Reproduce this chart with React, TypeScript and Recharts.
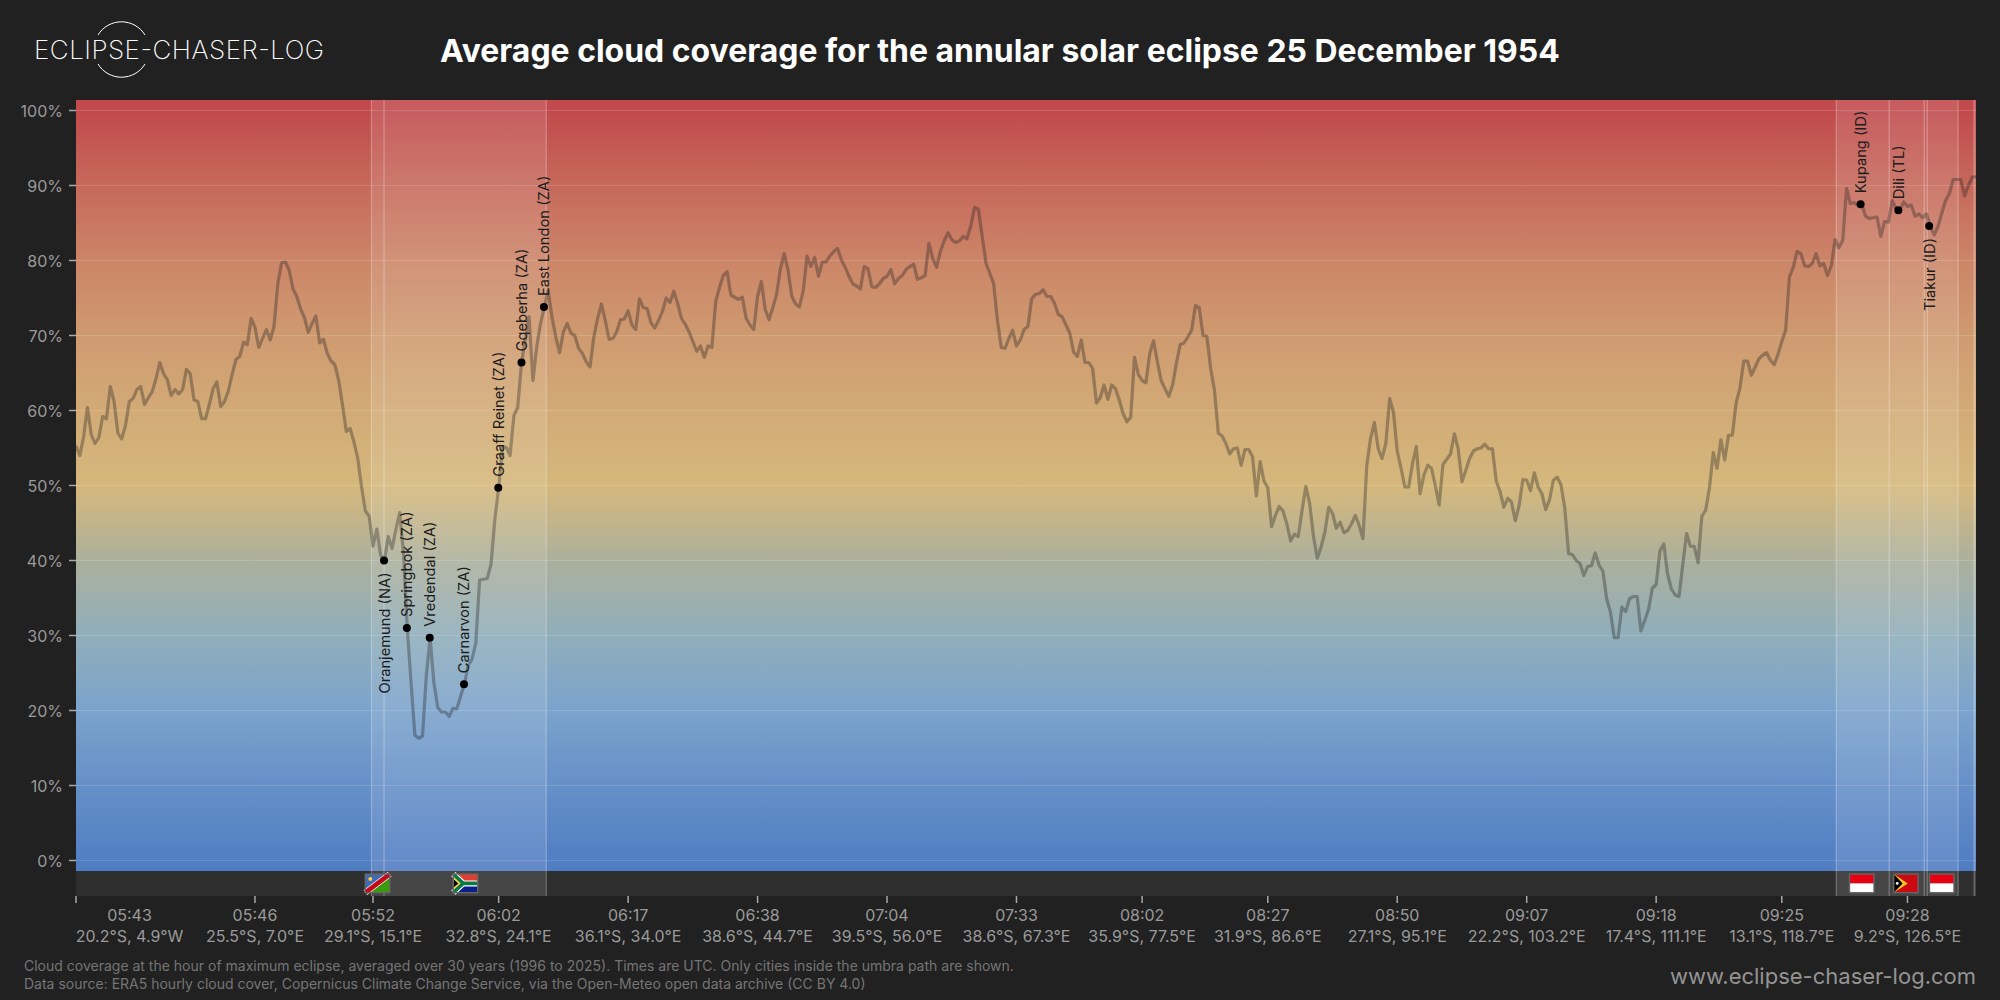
import {
  CartesianGrid,
  ComposedChart,
  Line,
  ReferenceArea,
  ReferenceDot,
  ReferenceLine,
  XAxis,
  YAxis,
} from "recharts";

// cloud cover (%) per sample along the centre line
const cloudAtlantic = [
  55.3, 54.0, 56.5, 60.4, 56.8, 55.6, 56.4, 59.2, 58.9, 63.2,
  61.2, 57.0, 56.2, 58.0, 61.2, 61.6, 62.8, 63.2, 60.8, 61.7,
  62.5, 64.2, 66.4, 64.9, 64.1, 62.0, 62.8, 62.2, 62.8, 65.5,
  64.9, 61.4, 61.2, 58.9, 58.9, 60.8, 62.9, 63.8, 60.5, 61.2,
  62.6, 64.8, 66.8, 67.2, 69.1, 68.8, 72.3, 71.1, 68.4, 69.6,
  70.8, 69.4, 71.2, 76.9, 79.7, 79.8, 78.7, 76.2, 75.2, 73.5,
  72.4, 70.4, 71.6, 72.6, 69.0, 69.5, 67.6, 66.6, 66.1, 64.0,
  60.7, 57.2, 57.6, 55.8, 53.6, 49.8, 46.6, 45.9,
];
const cloudAfrica = [
  41.9, 44.2, 40.7, 40.0, 43.2, 41.6, 44.1, 46.4, 41.0, 31.0,
  23.7, 16.7, 16.3, 16.6, 24.6, 29.7, 23.7, 20.4, 19.8, 19.8,
  19.2, 20.3, 20.2, 21.9, 23.5, 26.0, 26.8, 29.0, 37.4, 37.5,
  37.6, 39.5, 45.5, 49.7, 55.1, 55.1, 54.0, 59.3, 60.4, 66.3,
];
const cloudSouthIndian = [
  69.4, 72.5, 64.0, 68.5, 71.6, 73.8, 76.0, 72.5, 69.8, 67.7,
  70.5, 71.6, 70.3, 70.0, 68.3, 67.6, 66.5, 65.8, 69.8, 72.3,
  74.2, 72.0, 69.5, 69.6, 70.5, 72.1, 72.2, 73.3, 71.4, 70.8,
  74.9, 73.7, 73.6, 71.7, 71.0, 72.0, 73.2, 75.0, 74.4, 75.9,
  74.3, 72.3, 71.5, 70.5, 69.2, 67.9, 68.6, 67.1, 68.6, 68.4,
  74.5, 76.4, 78.0, 78.5, 75.4, 75.1, 74.8, 75.1, 72.3, 71.4,
  70.8, 75.2, 77.2, 73.5, 72.1, 73.7, 75.5, 78.9, 80.9, 78.7,
  75.2, 74.2, 73.8, 76.0, 80.6, 79.2, 80.4, 77.9, 79.8, 79.8,
  80.6, 81.2, 81.6, 80.1, 79.1, 77.9, 76.9, 76.6, 76.2, 79.2,
  78.9, 76.5, 76.4, 76.9, 77.6, 77.9, 78.8, 76.9, 77.6, 78.0,
  78.8, 79.2, 79.5, 77.5, 77.7, 78.0, 82.3, 80.3, 79.1, 81.2,
  82.6, 83.7, 82.8, 82.4, 82.6, 83.2, 82.9, 84.6, 87.1, 86.8,
  83.2, 79.6, 78.3, 76.9, 72.0,
];
const cloudMidIndian = [
  68.4, 68.3, 69.6, 70.7, 68.6, 69.4, 70.8, 71.2, 74.9, 75.5,
  75.6, 76.1, 75.2, 75.2, 74.3, 72.8, 72.5, 71.4, 70.3, 67.8,
  67.2, 69.4, 66.4, 66.4, 65.6, 61.0, 61.7, 63.4, 61.5, 63.4,
  62.9, 61.4, 59.6, 58.5, 59.1, 67.1, 64.8, 64.0, 63.7, 67.6,
  69.3, 66.5, 64.0, 62.9, 61.9, 63.4, 66.3, 68.8, 69.0, 69.8,
  70.7, 74.0, 73.7, 70.0, 69.9, 65.6, 62.7, 57.0, 56.6, 55.6,
  54.2, 54.9, 55.0, 52.7, 54.8, 54.8, 53.8, 48.6, 53.2, 50.6,
  49.7, 44.5, 46.0, 47.2, 46.6, 44.9, 42.6, 43.5, 43.2, 46.7,
  49.9, 47.6, 43.2, 40.3, 41.8, 43.8, 47.1, 46.3, 44.3, 45.1,
  43.7, 44.0, 44.9, 46.0, 44.7, 42.9, 52.7, 56.3, 58.4, 54.9,
  53.6, 55.6, 61.6, 59.8, 54.6, 52.3, 49.8, 49.8, 52.9, 55.2,
  48.9, 51.4, 52.7, 52.3, 50.0, 47.4, 52.8, 53.5, 54.2, 56.9,
  54.9, 50.5, 52.0, 53.6, 54.6, 54.9, 55.0,
];
const cloudTimorSea = [
  55.5, 54.9, 54.9, 50.6, 49.2, 47.1, 48.3, 47.8, 45.3, 47.3,
  50.8, 50.7, 49.3, 51.7, 49.8, 48.9, 46.8, 48.1, 50.7, 51.1,
  50.1, 47.0, 40.9, 40.8, 40.0, 39.6, 38.0, 39.2, 39.3, 41.0,
  39.4, 38.6, 34.9, 33.1, 29.7, 29.7, 33.8, 33.2, 34.9, 35.2,
  35.2, 30.6, 32.0, 33.5, 36.3, 36.8, 41.3, 42.2, 38.2, 36.2,
  35.4, 35.2, 39.5, 43.6, 41.9, 41.9, 39.7, 45.9, 46.7, 49.7,
  54.4, 52.3, 56.1, 53.4, 56.7, 56.7, 61.0, 63.0, 66.6, 66.6,
  64.7, 65.8, 66.9, 67.4, 67.7, 66.7, 66.1, 67.5, 69.2, 70.7,
  77.8, 79.1, 81.2, 80.9, 79.3, 79.2, 79.6, 80.9, 79.3, 79.6,
  78.0, 79.3, 82.8, 81.7, 82.7, 89.6, 87.6, 87.7, 87.4, 87.5,
  85.9, 85.6, 85.7, 85.8, 83.2, 85.2, 85.1, 88.0, 86.9, 86.7,
  87.8, 87.2, 87.4, 85.9, 86.2, 85.7, 86.2, 84.6, 83.4, 84.5,
  86.3, 88.0, 88.9, 90.8, 90.8, 90.8, 88.6, 90.0, 91.1, 91.2,
];
const cloudCover = [
  ...cloudAtlantic,
  ...cloudAfrica,
  ...cloudSouthIndian,
  ...cloudMidIndian,
  ...cloudTimorSea,
];

const tickSamples = [0, 47, 78, 111, 145, 179, 213, 247, 280, 313, 347, 381, 415, 448, 481];
const tickTimes = [
  "05:43", "05:46", "05:52", "06:02", "06:17", "06:38", "07:04", "07:33",
  "08:02", "08:27", "08:50", "09:07", "09:18", "09:25", "09:28",
];
const tickCoords = [
  "20.2°S, 4.9°W", "25.5°S, 7.0°E", "29.1°S, 15.1°E", "32.8°S, 24.1°E", "36.1°S, 34.0°E",
  "38.6°S, 44.7°E", "39.5°S, 56.0°E", "38.6°S, 67.3°E", "35.9°S, 77.5°E", "31.9°S, 86.6°E",
  "27.1°S, 95.1°E", "22.2°S, 103.2°E", "17.4°S, 111.1°E", "13.1°S, 118.7°E", "9.2°S, 126.5°E",
];
const yTicks = [0, 10, 20, 30, 40, 50, 60, 70, 80, 90, 100];

const cityNames = [
  "Oranjemund (NA)", "Springbok (ZA)", "Vredendal (ZA)", "Carnarvon (ZA)", "Graaff Reinet (ZA)",
  "Gqeberha (ZA)", "East London (ZA)", "Kupang (ID)", "Dili (TL)", "Tiakur (ID)",
];
const citySamples = [80.9, 86.9, 92.9, 101.9, 110.9, 117, 122.9, 468.7, 478.6, 486.7];
const cityValues = [40, 31, 29.7, 23.5, 49.7, 66.4, 73.8, 87.5, 86.7, 84.6];
const cityBelow = [true, false, false, false, false, false, false, false, false, true];

// land stretches crossed by the umbra
const landSpans = [
  [77.6, 123.5],
  [462.3, 494.3],
  [498.5, 499],
];
const borderSamples = [77.6, 80.9, 123.5, 462.3, 476.2, 485.4, 486.2, 494.3, 498.5];

const flagCodes = ["NA", "ZA", "ID", "TL", "ID"];
const flagSamples = [79.2, 102.3, 469, 480.6, 490];

const data = cloudCover.map((cloud, sample) => ({ sample, cloud }));

const Y_MIN = -4.733;
const Y_MAX = 101.4;
const FLAG_Y = -3.05;

const gradientStops = [
  [0, "#c04a4c"],
  [0.0126, "#c14a4c"],
  [0.107, "#c6695b"],
  [0.201, "#cc8568"],
  [0.295, "#cf9a70"],
  [0.389, "#d2aa76"],
  [0.484, "#d5b87c"],
  [0.531, "#c2b48c"],
  [0.578, "#acb09c"],
  [0.672, "#90aebb"],
  [0.766, "#7ba3cc"],
  [0.86, "#6690c8"],
  [0.955, "#527ec3"],
  [0.9686, "#507cc2"],
  [0.9687, "#2f2f2f"],
  [1, "#2f2f2f"],
];

function Flag({ cx, cy, code }: { cx: number; cy: number; code: string }) {
  const w = 24.5;
  const h = 18.6;
  const x = cx - w / 2;
  const y = cy - h / 2;
  let body = null;
  if (code === "ID") {
    body = (
      <>
        <rect x={x} y={y} width={w} height={h / 2} fill="#e70011" />
        <rect x={x} y={y + h / 2} width={w} height={h / 2} fill="#ffffff" />
      </>
    );
  } else if (code === "TL") {
    body = (
      <>
        <rect x={x} y={y} width={w} height={h} fill="#cc0a12" />
        <polygon points={`${x},${y} ${x + 14},${y + h / 2} ${x},${y + h}`} fill="#ffc726" />
        <polygon points={`${x},${y} ${x + 9},${y + h / 2} ${x},${y + h}`} fill="#000000" />
        <circle cx={x + 3.5} cy={y + h / 2} r={1.4} fill="#ffffff" />
      </>
    );
  } else if (code === "NA") {
    body = (
      <>
        <rect x={x} y={y} width={w} height={h} fill="#3a9a0c" />
        <polygon points={`${x},${y} ${x + w},${y} ${x},${y + h}`} fill="#3f6db5" />
        <line x1={x} y1={y + h} x2={x + w} y2={y} stroke="#ffffff" strokeWidth={6} />
        <line x1={x} y1={y + h} x2={x + w} y2={y} stroke="#c3091c" strokeWidth={4.6} />
        <circle cx={x + 5} cy={y + 5} r={2} fill="#ffcf33" />
      </>
    );
  } else {
    body = (
      <>
        <rect x={x} y={y} width={w} height={h / 2} fill="#e33c30" />
        <rect x={x} y={y + h / 2} width={w} height={h / 2} fill="#0b1e8c" />
        <polyline
          points={`${x},${y} ${x + 10},${y + h / 2} ${x + w},${y + h / 2} ${x + 10},${y + h / 2} ${x},${y + h}`}
          fill="none"
          stroke="#ffffff"
          strokeWidth={6}
        />
        <polyline
          points={`${x},${y} ${x + 10},${y + h / 2} ${x + w},${y + h / 2} ${x + 10},${y + h / 2} ${x},${y + h}`}
          fill="none"
          stroke="#0a7a43"
          strokeWidth={3.6}
        />
        <polygon points={`${x},${y + 3} ${x + 7},${y + h / 2} ${x},${y + h - 3}`} fill="#ffc726" />
        <polygon points={`${x},${y + 5} ${x + 5},${y + h / 2} ${x},${y + h - 5}`} fill="#000000" />
      </>
    );
  }
  return (
    <g>
      {body}
      <rect x={x} y={y} width={w} height={h} fill="none" stroke="#666666" strokeWidth={1.4} />
    </g>
  );
}

function CityMark({ cx, cy, name, below }: { cx: number; cy: number; name: string; below: boolean }) {
  const tx = cx + 5.5;
  const ty = below ? cy + 12 : cy - 11;
  return (
    <g>
      <circle cx={cx} cy={cy} r={4} fill="#000000" />
      <text
        x={tx}
        y={ty}
        transform={`rotate(-90 ${tx} ${ty})`}
        textAnchor={below ? "end" : "start"}
        fontSize={14.7}
        fill="#1d1d1d"
      >
        {name}
      </text>
    </g>
  );
}

function TwoLineTick({ x, y, payload }: any) {
  const i = tickSamples.indexOf(payload.value);
  // the first label would run off the plot edge, so it sits right of its tick
  const cx = i === 0 ? x + 53.5 : x;
  return (
    <text textAnchor="middle" fontSize={16} fill="#9a9a9a">
      <tspan x={cx} y={y + 16}>
        {tickTimes[i]}
      </tspan>
      <tspan x={cx} y={y + 37}>
        {tickCoords[i]}
      </tspan>
    </text>
  );
}

function CloudChart() {
  return (
    <ComposedChart
      width={2000}
      height={1000}
      data={data}
      margin={{ top: 100, right: 24, bottom: 0, left: 0 }}
      style={{ position: "absolute", left: 0, top: 0 }}
    >
      <defs>
        <linearGradient id="cloud-bg" x1="0" y1="0" x2="0" y2="1">
          {gradientStops.map(([offset, color]) => (
            <stop key={offset} offset={offset} stopColor={color as string} />
          ))}
        </linearGradient>
      </defs>
      <CartesianGrid
        vertical={false}
        fill="url(#cloud-bg)"
        fillOpacity={1}
        stroke="#ffffff"
        strokeOpacity={0.14}
        horizontalValues={yTicks}
      />
      <XAxis
        type="number"
        dataKey="sample"
        domain={[0, 499]}
        ticks={tickSamples}
        interval={0}
        height={104}
        axisLine={false}
        tickLine={{ stroke: "#a8a8a8", strokeWidth: 1.5 }}
        tickSize={7}
        tick={<TwoLineTick />}
      />
      <YAxis
        type="number"
        domain={[Y_MIN, Y_MAX]}
        allowDataOverflow
        ticks={yTicks}
        interval={0}
        width={76}
        axisLine={false}
        tickLine={{ stroke: "#a8a8a8", strokeWidth: 1.5 }}
        tickSize={7}
        tickMargin={6}
        tick={{ fill: "#9a9a9a", fontSize: 16, dy: 1 }}
        tickFormatter={(v: number) => `${v}%`}
      />
      {landSpans.map(([from, to]) => (
        <ReferenceArea
          key={from}
          x1={from}
          x2={to}
          y1={Y_MIN}
          y2={Y_MAX}
          fill="#ffffff"
          fillOpacity={0.11}
          stroke="none"
        />
      ))}
      {borderSamples.map((s) => (
        <ReferenceLine key={s} x={s} stroke="#ffffff" strokeOpacity={0.28} strokeWidth={1.2} />
      ))}
      <Line
        dataKey="cloud"
        type="linear"
        stroke="#202020"
        strokeOpacity={0.34}
        strokeWidth={3.2}
        strokeLinejoin="round"
        dot={false}
        activeDot={false}
        isAnimationActive={false}
      />
      {flagSamples.map((s, i) => (
        <ReferenceDot
          key={s}
          x={s}
          y={FLAG_Y}
          shape={(p: any) => <Flag cx={p.cx} cy={p.cy} code={flagCodes[i]} />}
        />
      ))}
      {cityNames.map((name, i) => (
        <ReferenceDot
          key={name}
          x={citySamples[i]}
          y={cityValues[i]}
          shape={(p: any) => <CityMark cx={p.cx} cy={p.cy} name={name} below={cityBelow[i]} />}
        />
      ))}
    </ComposedChart>
  );
}

export default function App() {
  return (
    <div
      style={{
        position: "absolute",
        left: 0,
        top: 0,
        width: 2000,
        height: 1000,
        overflow: "hidden",
        background: "#212121",
        fontFamily: "Inter, sans-serif",
      }}
    >
      <CloudChart />
      <svg width={340} height={90} style={{ position: "absolute", left: 0, top: 0 }}>
        <path d="M98 35 A27.5 27.5 0 0 1 145 35" fill="none" stroke="#ffffff" strokeWidth={1} />
        <path d="M98 64 A27.5 27.5 0 0 0 145 64" fill="none" stroke="#ffffff" strokeWidth={1} />
        <text x={34} y={59} fontSize={26} fontWeight={200} fill="#ffffff" textLength={290}>
          ECLIPSE-CHASER-LOG
        </text>
      </svg>
      <div
        style={{
          position: "absolute",
          left: 440,
          top: 31,
          fontSize: 31.95,
          lineHeight: "40px",
          fontWeight: 700,
          color: "#ffffff",
          whiteSpace: "nowrap",
        }}
      >
        Average cloud coverage for the annular solar eclipse 25 December 1954
      </div>
      <div
        style={{
          position: "absolute",
          left: 24,
          top: 957,
          fontSize: 14,
          lineHeight: "18px",
          color: "#757575",
          whiteSpace: "nowrap",
        }}
      >
        Cloud coverage at the hour of maximum eclipse, averaged over 30 years (1996 to 2025). Times are UTC. Only cities inside the umbra path are shown.
        <br />
        Data source: ERA5 hourly cloud cover, Copernicus Climate Change Service, via the Open-Meteo open data archive (CC BY 4.0)
      </div>
      <div
        style={{
          position: "absolute",
          right: 24,
          top: 962,
          fontSize: 22,
          lineHeight: "28px",
          color: "#949494",
          whiteSpace: "nowrap",
        }}
      >
        www.eclipse-chaser-log.com
      </div>
    </div>
  );
}
